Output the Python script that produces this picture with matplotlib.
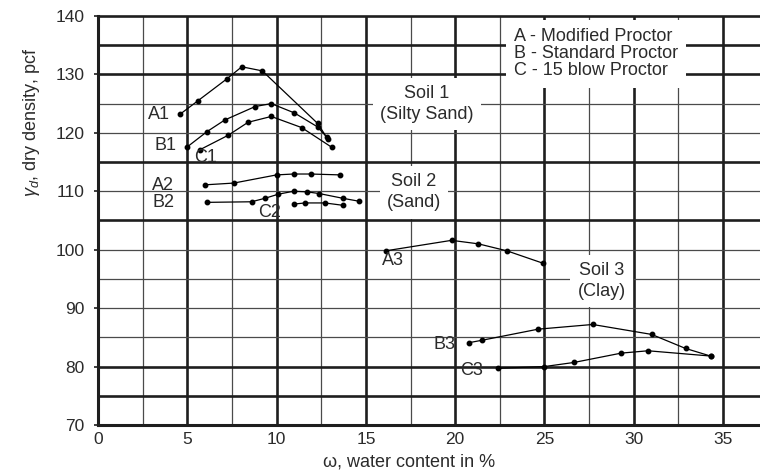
import matplotlib
matplotlib.use("Agg")
import matplotlib.pyplot as plt

# ------------------------------------------------------------
# Compaction curves: water content (%) vs dry unit weight (pcf)
# ------------------------------------------------------------
A1_W = [4.6, 5.6, 7.2, 8.05, 9.2, 12.3, 12.85]
A1_G = [123.2, 125.5, 129.2, 131.3, 130.6, 121.6, 119.0]
B1_W = [5.0, 6.1, 7.1, 8.8, 9.7, 11.0, 12.3, 12.8]
B1_G = [117.6, 120.2, 122.2, 124.5, 125.0, 123.4, 121.0, 119.3]
C1_W = [5.7, 7.3, 8.4, 9.7, 11.4, 13.1]
C1_G = [117.1, 119.6, 121.8, 122.8, 120.9, 117.5]

A2_W = [6.0, 7.6, 10.0, 10.95, 11.9, 13.55]
A2_G = [111.1, 111.4, 112.8, 112.95, 112.95, 112.8]
B2_W = [6.1, 8.6, 9.35, 10.1, 10.95, 11.7, 12.4, 13.7, 14.6]
B2_G = [108.1, 108.2, 108.8, 109.5, 110.0, 109.9, 109.6, 108.8, 108.3]
C2_W = [10.95, 11.6, 12.7, 13.7]
C2_G = [107.8, 108.0, 108.0, 107.6]

A3_W = [16.1, 19.8, 21.3, 22.9, 24.9]
A3_G = [99.8, 101.6, 101.0, 99.8, 97.7]
B3_W = [20.8, 21.5, 24.65, 27.7, 31.0, 32.9, 34.3]
B3_G = [84.1, 84.5, 86.4, 87.2, 85.5, 83.1, 81.8]
C3_W = [22.4, 25.0, 26.65, 29.3, 30.8, 34.3]
C3_G = [79.7, 80.0, 80.7, 82.3, 82.7, 81.8]

CURVES = [
    ("A1", A1_W, A1_G), ("B1", B1_W, B1_G), ("C1", C1_W, C1_G),
    ("A2", A2_W, A2_G), ("B2", B2_W, B2_G), ("C2", C2_W, C2_G),
    ("A3", A3_W, A3_G), ("B3", B3_W, B3_G), ("C3", C3_W, C3_G),
]

# curve tags: (text, w, gamma)
TAGS = [
    ("A1", 3.4, 123.1), ("B1", 3.75, 117.8), ("C1", 6.0, 115.8),
    ("A2", 3.65, 111.0), ("B2", 3.65, 108.0), ("C2", 9.6, 106.3),
    ("A3", 16.5, 98.2), ("B3", 19.4, 83.7), ("C3", 20.9, 79.3),
]

X_TICKS = [0, 5, 10, 15, 20, 25, 30, 35]
Y_TICKS = [70, 80, 90, 100, 110, 120, 130, 140]
X_GRID = [0, 2.5, 5, 7.5, 10, 12.5, 15, 17.5, 20, 22.5, 25, 27.5, 30, 32.5, 35]
Y_GRID = [75, 80, 85, 90, 95, 100, 105, 110, 115, 120, 125, 130, 135]
Y_HEAVY = [75, 80, 105, 115, 130, 135]

plt.rcParams["font.family"] = ["Liberation Sans", "DejaVu Sans"]
plt.rcParams["mathtext.fontset"] = "custom"
plt.rcParams["mathtext.rm"] = "Liberation Sans"
plt.rcParams["mathtext.it"] = "Liberation Sans:italic"

TXT = "#2b2b2b"
DARK = "#1e1e1e"
THIN = "#4a4a4a"
FS = 13

fig = plt.figure(figsize=(7.6, 4.72), dpi=100)
ax = fig.add_axes([0.129, 0.0996, 0.871, 0.8666])
ax.set_xlim(0, 37.07)
ax.set_ylim(70, 140)

# hand-drawn style grid: heavy lines every 5 %, light in between
for w in X_GRID:
    heavy = w % 5 == 0
    ax.axvline(w, color=DARK if heavy else THIN, lw=1.9 if heavy else 0.9, zorder=1)
for g in Y_GRID:
    heavy = g in Y_HEAVY
    ax.axhline(g, color=DARK if heavy else THIN, lw=1.9 if heavy else 0.9, zorder=1)

for name, w, g in CURVES:
    ax.plot(w, g, color="black", lw=0.9, marker="o", ms=3.2, zorder=4)

for text, w, g in TAGS:
    ax.text(w, g, text, fontsize=FS, color=TXT, ha="center", va="center", zorder=5)

white = dict(boxstyle="square,pad=0.4", fc="white", ec="none")
ax.text(18.4, 124.9, "Soil 1\n(Silty Sand)", fontsize=FS, color=TXT, ha="center",
        va="center", linespacing=1.3, bbox=white, zorder=3)
ax.text(17.7, 109.8, "Soil 2\n(Sand)", fontsize=FS, color=TXT, ha="center",
        va="center", linespacing=1.3, bbox=white, zorder=3)
ax.text(28.2, 94.6, "Soil 3\n(Clay)", fontsize=FS, color=TXT, ha="center",
        va="center", linespacing=1.3, bbox=white, zorder=3)
ax.text(23.3, 133.5, "A - Modified Proctor\nB - Standard Proctor\nC - 15 blow Proctor",
        fontsize=FS, color=TXT, ha="left", va="center", linespacing=1.0,
        bbox=dict(boxstyle="square,pad=0.45", fc="white", ec="none"), zorder=3)

ax.set_xticks(X_TICKS)
ax.set_yticks(Y_TICKS)
ax.tick_params(axis="x", length=0, pad=5, labelsize=12.5, labelcolor=TXT)
ax.tick_params(axis="y", length=3, width=1.2, pad=7, labelsize=12.5, labelcolor=TXT,
               color=DARK)

for side in ("top", "right"):
    ax.spines[side].set_visible(False)
for side in ("left", "bottom"):
    ax.spines[side].set_linewidth(2.2)
    ax.spines[side].set_color(DARK)
ax.axhline(140, color=DARK, lw=1.9, zorder=1, clip_on=False)

ax.set_xlabel("ω, water content in %", fontsize=FS, color=TXT)
ax.xaxis.set_label_coords(0.47, -0.07)
ax.set_ylabel(r"$\gamma_d$, dry density, pcf", fontsize=FS, color=TXT)
ax.yaxis.set_label_coords(-0.085, 0.74)

fig.savefig("out.png", dpi=100)
